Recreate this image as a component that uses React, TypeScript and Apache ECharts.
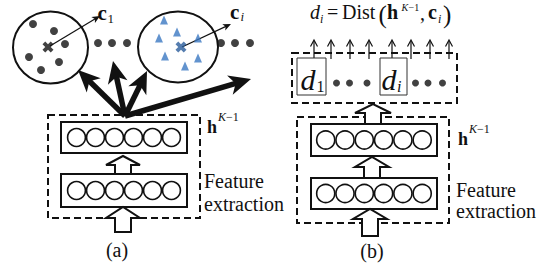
import React, { useEffect, useRef } from "react";
import * as echarts from "echarts";

const FONT = "Liberation Serif, Times New Roman, serif";
const INK = "#111";
const BLUE = "#3b78c2";
const BLUE_DARK = "#2b5d9b";

// cluster members (diagram coordinates)
const cluster1Dots = [[33, 24], [54, 31], [65, 44], [29, 57], [59, 62], [41, 70]];
const clusterITriangles = [[164, 20], [177, 32], [159, 38], [198, 38], [165, 56], [198, 58], [185, 66]];
const centroids = [[48, 47]];
const centroidsBlue = [[181, 47]];
const ellipsisDotsA = [[98, 43], [112, 43], [127, 43], [221, 43], [235, 43], [250, 43]];
const ellipsisDotsB = [[336.5, 83], [349.5, 83], [367, 83], [415.5, 83], [428, 83], [442.5, 83]];
const neuronsPerLayer = 6;
const upArrowXs = [314, 331, 350, 369, 392, 411, 430, 449];
const labelsA = { feature: "Feature", extraction: "extraction", caption: "(a)" };
const labelsB = { caption: "(b)" };

function txt(text: string, x: number, baseline: number, size: number, opts: any = {}) {
  return {
    type: "text",
    silent: true,
    style: {
      text,
      x,
      y: baseline - 0.33 * size,
      fontFamily: FONT,
      fontSize: size,
      fontStyle: opts.italic ? "italic" : "normal",
      fontWeight: opts.bold ? "bold" : "normal",
      fill: opts.fill || INK,
      textAlign: opts.align || "left",
      textVerticalAlign: "middle",
      align: opts.align || "left",
      verticalAlign: "middle",
      lineHeight: size,
    },
  };
}

function arrow(ox: number, oy: number, tx: number, ty: number, w: number, L: number, H: number, n: number) {
  const dx = tx - ox, dy = ty - oy;
  const len = Math.hypot(dx, dy);
  const ux = dx / len, uy = dy / len;
  const px = -uy, py = ux;
  const nx = tx - ux * (L - n), ny = ty - uy * (L - n);
  const bx = tx - ux * L, by = ty - uy * L;
  return [
    { type: "line", shape: { x1: ox, y1: oy, x2: nx + ux * 1, y2: ny + uy * 1 }, style: { stroke: INK, lineWidth: w, lineCap: "butt" } },
    {
      type: "polygon",
      shape: { points: [[tx, ty], [bx + px * H, by + py * H], [nx, ny], [bx - px * H, by - py * H]] },
      style: { fill: INK },
    },
  ];
}

function hollowUp(cx: number, tip: number, base: number, bottom: number, hw = 17, sw = 8) {
  return {
    type: "polygon",
    shape: {
      points: [
        [cx - sw, bottom], [cx - sw, base], [cx - hw, base], [cx, tip],
        [cx + hw, base], [cx + sw, base], [cx + sw, bottom],
      ],
    },
    style: { fill: "#fff", stroke: INK, lineWidth: 2, lineJoin: "miter" },
  };
}

function dashedBox(x: number, y: number, w: number, h: number) {
  return { type: "rect", shape: { x, y, width: w, height: h }, style: { fill: "none", stroke: INK, lineWidth: 2, lineDash: [7, 4] } };
}

function layer(x: number, y: number, w: number, h: number, c0: number, cy: number, d: number) {
  const els: any[] = [{ type: "rect", shape: { x, y, width: w, height: h }, style: { fill: "#fff", stroke: INK, lineWidth: 2 } }];
  for (let k = 0; k < neuronsPerLayer; k++) {
    els.push({ type: "circle", shape: { cx: c0 + d * k, cy, r: d / 2 - 0.6 }, style: { fill: "none", stroke: INK, lineWidth: 1.6 } });
  }
  return els;
}

const CROSS = "path://M0,2.5 L2.5,0 L5,2.5 L7.5,0 L10,2.5 L7.5,5 L10,7.5 L7.5,10 L5,7.5 L2.5,10 L0,7.5 L2.5,5 Z";

export default function App() {
  const ref = useRef<HTMLDivElement>(null);
  useEffect(() => {
    if (!ref.current) return;
    const chart = echarts.init(ref.current, undefined, { renderer: "svg" });
    const g: any[] = [];

    // ---- panel (a) ----
    g.push({ type: "ellipse", shape: { cx: 50.5, cy: 47.5, rx: 37.5, ry: 36 }, style: { fill: "none", stroke: INK, lineWidth: 2 } });
    g.push({ type: "ellipse", shape: { cx: 178, cy: 47, rx: 40, ry: 35.5 }, style: { fill: "none", stroke: INK, lineWidth: 2 } });
    g.push(...arrow(50, 46, 100, 16, 1.2, 8, 3.5, 2));
    g.push(...arrow(182, 47, 231, 24, 1.2, 8, 3.5, 2));
    g.push(txt("c", 97.5, 20, 21, { bold: true }));
    g.push(txt("1", 107.5, 23, 13));
    g.push(txt("c", 230, 19, 21, { bold: true }));
    g.push(txt("i", 240.5, 21, 13, { italic: true }));

    const O = [125, 116];
    const tips = [[78, 70], [113, 61], [147, 71], [251, 79]];
    tips.forEach((t) => g.push(...arrow(O[0], O[1], t[0], t[1], 5.5, 22, 10, 6)));

    g.push(dashedBox(48, 115, 152, 103));
    g.push(...layer(61, 122, 126, 31, 76.5, 137.5, 19));
    g.push(...layer(61, 174, 126, 33, 76.5, 190.5, 19));
    g.push(hollowUp(123, 156, 165, 174));
    g.push(hollowUp(123, 207, 218, 232));
    g.push(txt("h", 207, 133, 18, { bold: true }));
    g.push(txt("K", 218, 121, 12, { italic: true }));
    g.push(txt("\u22121", 226, 121, 12));
    g.push(txt(labelsA.feature, 204, 188, 20));
    g.push(txt(labelsA.extraction, 204, 211, 20));
    g.push(txt(labelsA.caption, 117, 257, 20, { align: "center" }));

    // ---- panel (b) ----
    g.push(txt("d", 310, 19, 20, { italic: true }));
    g.push(txt("i", 320, 23, 12, { italic: true }));
    g.push(txt("=", 327, 19, 20));
    g.push(txt("Dist", 342, 19, 20));
    g.push(txt("(", 378.5, 23, 25));
    g.push(txt("h", 387, 19, 20, { bold: true }));
    g.push(txt("K", 401.5, 11, 10, { italic: true }));
    g.push(txt("\u22121", 408.5, 11, 10));
    g.push(txt(",", 420, 20, 20));
    g.push(txt("c", 428, 19, 20, { bold: true }));
    g.push(txt("i", 438, 23, 12, { italic: true }));
    g.push(txt(")", 443, 23, 25));

    upArrowXs.forEach((x) => {
      g.push({ type: "line", shape: { x1: x, y1: 59, x2: x, y2: 41 }, style: { stroke: INK, lineWidth: 1.2 } });
      g.push({ type: "polyline", shape: { points: [[x - 3.5, 46.5], [x, 40], [x + 3.5, 46.5]] }, style: { fill: "none", stroke: INK, lineWidth: 1.2 } });
    });
    g.push(dashedBox(292, 53, 165, 50));
    g.push({ type: "rect", shape: { x: 297, y: 58, width: 29, height: 37 }, style: { fill: "#fff", stroke: "#333", lineWidth: 1 } });
    g.push({ type: "rect", shape: { x: 380, y: 58, width: 27, height: 37 }, style: { fill: "#fff", stroke: "#333", lineWidth: 1 } });
    g.push(txt("d", 300.5, 89, 30, { italic: true }));
    g.push(txt("1", 316.5, 92, 16));
    g.push(txt("d", 381.5, 89, 30, { italic: true }));
    g.push(txt("i", 397, 92, 16, { italic: true }));

    g.push(dashedBox(297, 117, 152, 106));
    g.push(...layer(311, 124, 126, 32, 325.7, 140, 19.3));
    g.push(...layer(311, 178, 126, 31, 325.7, 193.5, 19.3));
    g.push(hollowUp(373, 104, 113, 124, 18, 8));
    g.push(hollowUp(372, 157, 167, 178));
    g.push(hollowUp(370, 209, 219, 236));
    g.push(txt("h", 458, 145, 18, { bold: true }));
    g.push(txt("K", 469, 133, 12, { italic: true }));
    g.push(txt("\u22121", 477, 133, 12));
    g.push(txt(labelsA.feature, 456, 197, 20));
    g.push(txt(labelsA.extraction, 456, 218, 20));
    g.push(txt(labelsB.caption, 372, 258, 20, { align: "center" }));

    chart.setOption({
      animation: false,
      grid: { left: 0, right: 0, top: 0, bottom: 0 },
      xAxis: { type: "value", min: 0, max: 548, show: false },
      yAxis: { type: "value", min: 0, max: 273, inverse: true, show: false },
      series: [
        { type: "scatter", data: cluster1Dots, symbol: "circle", symbolSize: 8, itemStyle: { color: INK }, silent: true, z: 3 },
        { type: "scatter", data: clusterITriangles, symbol: "triangle", symbolSize: [8, 9], itemStyle: { color: BLUE }, silent: true, z: 3 },
        { type: "scatter", data: centroids, symbol: CROSS, symbolSize: 11, itemStyle: { color: INK }, silent: true, z: 3 },
        { type: "scatter", data: centroidsBlue, symbol: CROSS, symbolSize: 11, itemStyle: { color: BLUE_DARK }, silent: true, z: 3 },
        { type: "scatter", data: ellipsisDotsA, symbol: "circle", symbolSize: 8, itemStyle: { color: INK }, silent: true, z: 3 },
        { type: "scatter", data: ellipsisDotsB, symbol: "circle", symbolSize: 7, itemStyle: { color: INK }, silent: true, z: 100 },
      ],
      graphic: { elements: g },
    });
    return () => chart.dispose();
  }, []);
  return <div ref={ref} style={{ position: "fixed", left: 0, top: 0, width: 548, height: 273, background: "#fff" }} />;
}
